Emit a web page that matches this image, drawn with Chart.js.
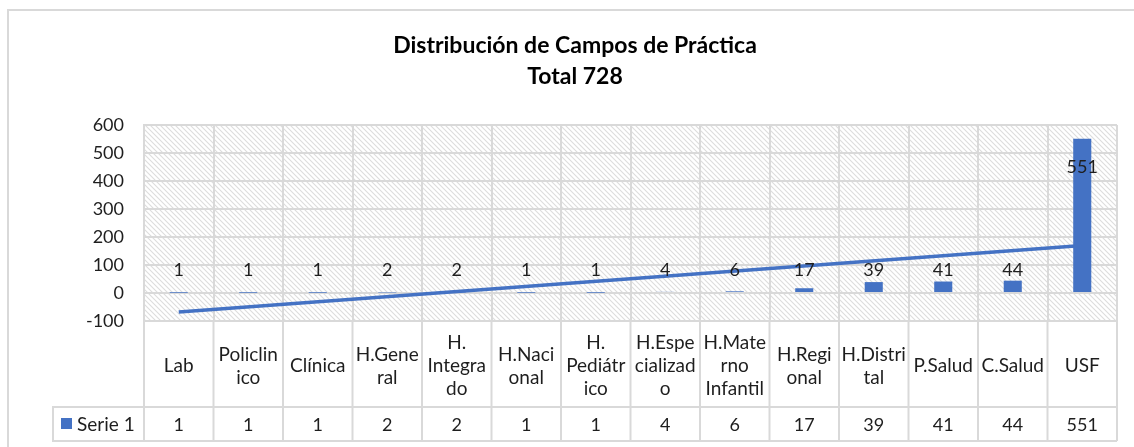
<!DOCTYPE html>
<html>
<head>
<meta charset="utf-8">
<script src="https://cdn.jsdelivr.net/npm/chart.js@4/dist/chart.umd.min.js"></script>
<style>
    html, body { margin: 0; padding: 0; background: #fff; }
    #wrap { width: 1134px; height: 447px; }
</style>
</head>
<body>
<div id="wrap"><canvas id="chart"></canvas></div>
<script>
// values
const categories = [
    ['Lab'], ['Policlin', 'ico'], ['Clínica'], ['H.Gene', 'ral'],
    ['H.', 'Integra', 'do'], ['H.Naci', 'onal'], ['H.', 'Pediátr', 'ico'],
    ['H.Espe', 'cializad', 'o'], ['H.Mate', 'rno', 'Infantil'],
    ['H.Regi', 'onal'], ['H.Distri', 'tal'], ['P.Salud'], ['C.Salud'], ['USF'],
];
const serie1 = [1, 1, 1, 2, 2, 1, 1, 4, 6, 17, 39, 41, 44, 551];
// linear trend line, ends
const trend = [-68, null, null, null, null, null, null, null, null, null, null, null, null, 170];
const yTicks = [-100, 0, 100, 200, 300, 400, 500, 600];
const titleLines = ['Distribución de Campos de Práctica', 'Total 728'];
const seriesName = 'Serie 1';

const BLUE = '#4472C4';
const GRID = '#d9d9d9';
const TEXT = '#1e1e1e';
const FONT = 'Lato, "Liberation Sans", sans-serif';

/**
 * Hatched fill like the Excel pattern
 */
function hatchPattern(ctx) {
    'use strict';
    const s = 5;
    const tile = document.createElement('canvas');
    tile.width = s;
    tile.height = s;
    const t = tile.getContext('2d');
    t.fillStyle = '#fff';
    t.fillRect(0, 0, s, s);
    t.strokeStyle = '#dcdcdc';
    t.lineWidth = 1.1;
    for (let k = -1; k <= 1; ++k) {
        t.beginPath();
        t.moveTo(-1, k * s - 1);
        t.lineTo(s + 1, k * s + s + 1);
        t.stroke();
    }
    return ctx.createPattern(tile, 'repeat');
}

const pluginBackground = {
    id: 'hatchBackground',
    beforeDraw: function(chart) {
        const {ctx, chartArea} = chart;
        ctx.save();
        // outer chart border
        ctx.strokeStyle = GRID;
        ctx.lineWidth = 2;
        ctx.beginPath();
        ctx.moveTo(8, 460);
        ctx.lineTo(8, 10);
        ctx.lineTo(1140, 10);
        ctx.stroke();
        // title
        ctx.fillStyle = '#000';
        ctx.font = 'bold 23px ' + FONT;
        ctx.textAlign = 'center';
        ctx.textBaseline = 'middle';
        ctx.fillText(titleLines[0], 575, 46);
        ctx.fillText(titleLines[1], 575, 77);
        // hatched plot area
        ctx.fillStyle = hatchPattern(ctx);
        ctx.fillRect(chartArea.left, chartArea.top,
            chartArea.right - chartArea.left, chartArea.bottom - chartArea.top);
        ctx.restore();
    },
};

const pluginBarLabels = {
    id: 'barLabels',
    afterDatasetsDraw: function(chart) {
        const {ctx} = chart;
        const meta = chart.getDatasetMeta(0);
        const zero = chart.scales.y.getPixelForValue(0);
        ctx.save();
        ctx.fillStyle = TEXT;
        ctx.font = '18px ' + FONT;
        ctx.textAlign = 'center';
        ctx.textBaseline = 'middle';
        meta.data.forEach(function(bar, i) {
            const v = serie1[i];
            const y = v > 100 ? bar.y + 28 : zero - 23;
            ctx.fillText(String(v), bar.x, y);
        });
        ctx.restore();
    },
};

const pluginDataTable = {
    id: 'dataTable',
    afterDraw: function(chart) {
        const {ctx, chartArea} = chart;
        const x = chart.scales.x;
        const w = (chartArea.right - chartArea.left) / categories.length;
        const top = chartArea.bottom;
        const mid = 407;
        const bottom = 441;
        const legendLeft = 53;

        ctx.save();
        ctx.strokeStyle = GRID;
        ctx.lineWidth = 2;
        ctx.beginPath();
        for (let i = 0; i <= categories.length; ++i) {
            const px = chartArea.left + i * w;
            ctx.moveTo(px, top);
            ctx.lineTo(px, bottom);
        }
        ctx.moveTo(legendLeft, mid);
        ctx.lineTo(chartArea.right, mid);
        ctx.moveTo(legendLeft, bottom);
        ctx.lineTo(chartArea.right, bottom);
        ctx.moveTo(legendLeft, mid - 1);
        ctx.lineTo(legendLeft, bottom + 1);
        ctx.stroke();

        ctx.fillStyle = TEXT;
        ctx.font = '19px ' + FONT;
        ctx.textAlign = 'center';
        ctx.textBaseline = 'middle';
        const lh = 23;
        const headMid = (top + mid) / 2 + 2;
        categories.forEach(function(lines, i) {
            const cx = x.getPixelForValue(i);
            const y0 = headMid - (lines.length - 1) * lh / 2;
            lines.forEach(function(line, j) {
                ctx.fillText(line, cx, y0 + j * lh);
            });
        });
        ctx.font = '18px ' + FONT;
        categories.forEach(function(lines, i) {
            ctx.fillText(String(serie1[i]), x.getPixelForValue(i), (mid + bottom) / 2 + 1);
        });

        // legend key
        ctx.fillStyle = BLUE;
        ctx.fillRect(61, 418, 11, 11);
        ctx.fillStyle = TEXT;
        ctx.font = '19px ' + FONT;
        ctx.textAlign = 'left';
        ctx.fillText(seriesName, 77, (mid + bottom) / 2 + 1);
        ctx.restore();
    },
};

new Chart(document.getElementById('chart'), {
    type: 'bar',
    data: {
        labels: categories.map((c) => c.join('')),
        datasets: [
            {
                label: seriesName,
                data: serie1,
                backgroundColor: BLUE,
                barPercentage: 0.26,
                categoryPercentage: 1,
                order: 0,
            },
            {
                type: 'line',
                label: 'Lineal (Serie 1)',
                data: trend,
                borderColor: BLUE,
                borderWidth: 3.5,
                pointRadius: 0,
                spanGaps: true,
                order: 1,
            },
        ],
    },
    options: {
        responsive: true,
        maintainAspectRatio: false,
        animation: false,
        layout: {padding: {top: 125, bottom: 126, left: 0, right: 17}},
        plugins: {
            legend: {display: false},
            tooltip: {enabled: false},
            title: {display: false},
        },
        scales: {
            x: {
                grid: {offset: true, color: GRID, lineWidth: 2, drawTicks: false},
                border: {display: true, color: GRID, width: 2},
                ticks: {display: false},
                afterFit: function(s) {
                    s.height = 0;
                },
            },
            y: {
                min: yTicks[0],
                max: yTicks[yTicks.length - 1],
                afterBuildTicks: function(s) {
                    s.ticks = yTicks.map((v) => ({value: v}));
                },
                grid: {color: GRID, lineWidth: 2, drawTicks: false},
                border: {display: true, color: GRID, width: 2},
                ticks: {
                    padding: 20,
                    color: TEXT,
                    font: {family: FONT, size: 18},
                },
                afterFit: function(s) {
                    s.width = 144;
                },
            },
        },
    },
    plugins: [pluginBackground, pluginBarLabels, pluginDataTable],
});
</script>
</body>
</html>
